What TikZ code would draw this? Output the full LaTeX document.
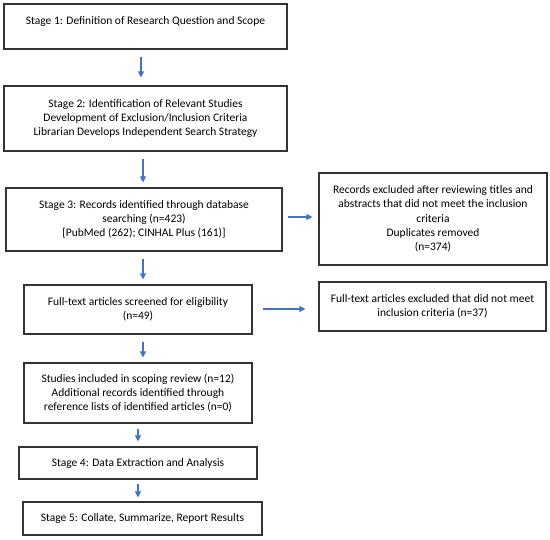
\documentclass[tikz,border=0pt]{standalone}
\usepackage{fontspec}
\setmainfont{Carlito}
\usetikzlibrary{arrows.meta}
\definecolor{arrowblue}{HTML}{4472C4}
\begin{document}
\begin{tikzpicture}[x=1pt,y=-1pt,
  box/.style={draw=black!80,line width=1.1pt,rectangle,align=center,inner sep=0pt,
    font=\fontsize{11.5}{14.2}\selectfont},
  flow/.style={draw=arrowblue,line width=1.1pt,-{Triangle[length=6pt,width=6pt]}}]
\useasboundingbox (0,0) rectangle (550,540);
\fill[white] (0,0) rectangle (550,540);
\node[box,minimum width=283,minimum height=45,text depth=12pt] (s1) at (145.5,26.5)
  {Stage 1: Definition of Research Question and Scope};
\node[box,minimum width=283,minimum height=65] (s2) at (145.5,118.5)
  {Stage 2: Identification of Relevant Studies\\Development of Exclusion/Inclusion Criteria\\Librarian Develops Independent Search Strategy};
\node[box,minimum width=276,minimum height=63] (s3) at (144,219.5)
  {Stage 3: Records identified through database\\searching (n=423)\\{}[PubMed (262); CINHAL Plus (161)]};
\node[box,minimum width=228,minimum height=49] (ft) at (138,309.5)
  {Full-text articles screened for eligibility\\(n=49)};
\node[box,minimum width=228,minimum height=60] (inc) at (138,393)
  {Studies included in scoping review (n=12)\\Additional records identified through\\reference lists of identified articles (n=0)};
\node[box,minimum width=238,minimum height=32] (s4) at (138,463)
  {Stage 4: Data Extraction and Analysis};
\node[box,minimum width=239,minimum height=33] (s5) at (142.5,518.5)
  {Stage 5: Collate, Summarize, Report Results};
\node[box,minimum width=228,minimum height=92] (ex1) at (433,219)
  {Records excluded after reviewing titles and\\abstracts that did not meet the inclusion\\criteria\\Duplicates removed\\(n=374)};
\node[box,minimum width=227,minimum height=49] (ex2) at (432.5,306.5)
  {Full-text articles excluded that did not meet\\inclusion criteria (n=37)};
% vertical arrows
\draw[flow,shorten <=7pt,shorten >=8pt] ([xshift=-4.5pt]s1.south) -- ([xshift=-4.5pt]s1.south |- s2.north);
\draw[flow,shorten <=7pt,shorten >=5pt] ([xshift=-2.5pt]s2.south) -- ([xshift=-2.5pt]s2.south |- s3.north);
\draw[flow,shorten <=7pt,shorten >=5pt] ([xshift=-1pt]s3.south) -- ([xshift=-1pt]s3.south |- ft.north);
\draw[flow,shorten <=7pt,shorten >=5pt] ([xshift=5pt]ft.south) -- ([xshift=5pt]ft.south |- inc.north);
\draw[flow,shorten <=5pt,shorten >=5pt] (inc.south) -- (inc.south |- s4.north);
\draw[flow,shorten <=4pt,shorten >=4pt] (s4.south) -- (s4.south |- s5.north);
% horizontal arrows
\draw[flow,shorten <=5pt,shorten >=6pt] ([yshift=2.5pt]s3.east) -- ([yshift=2.5pt]s3.east -| ex1.west);
\draw[flow,shorten <=10pt,shorten >=13pt] ([yshift=0.5pt]ft.east) -- ([yshift=0.5pt]ft.east -| ex2.west);
\end{tikzpicture}
\end{document}
